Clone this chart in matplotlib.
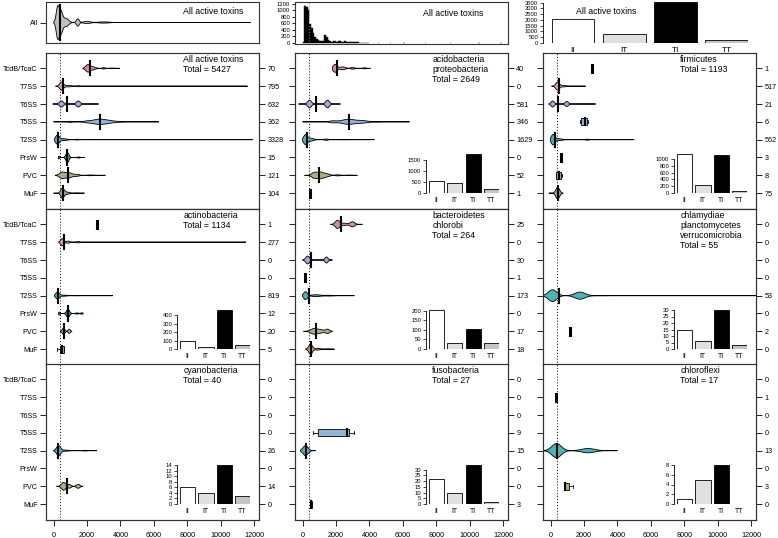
import numpy as np
import matplotlib.pyplot as plt
from matplotlib.ticker import MaxNLocator

plt.rcParams['font.family'] = ['Liberation Sans', 'DejaVu Sans']

W, H = 778, 538

categories = ['TcdB/TcaC', 'T7SS', 'T6SS', 'T5SS', 'T2SS', 'PrsW', 'PVC', 'MuF']
cat_colors = ['#d0909c', '#d89cb4', '#b3a3d3', '#93b2d8', '#4fb2b4', '#3e9f8e', '#a3b283', '#b59c80']
pair_names = ['II', 'IT', 'TI', 'TT']
pair_colors = ['white', '#e0e0e0', 'black', '#c4c4c4']
median_len = 380

panel_titles = ['All active toxins\nTotal = 5427', 'acidobacteria\nproteobacteria\nTotal = 2649',
                'firmicutes\nTotal = 1193', 'actinobacteria\nTotal = 1134',
                'bacteroidetes\nchlorobi\nTotal = 264',
                'chlamydiae\nplanctomycetes\nverrucomicrobia\nTotal = 55',
                'cyanobacteria\nTotal = 40', 'fusobacteria\nTotal = 27', 'chloroflexi\nTotal = 17']
panel_counts = [[70, 795, 632, 362, 3328, 15, 121, 104],
                [40, 0, 581, 346, 1629, 0, 52, 1],
                [1, 517, 21, 6, 562, 3, 8, 75],
                [1, 277, 0, 0, 819, 12, 20, 5],
                [25, 0, 30, 1, 173, 0, 17, 18],
                [0, 0, 0, 0, 53, 0, 2, 0],
                [0, 0, 0, 0, 26, 0, 14, 0],
                [0, 0, 0, 9, 15, 0, 0, 3],
                [0, 1, 0, 0, 13, 0, 3, 0]]
pair_counts = [None, [560, 470, 1780, 190], [1150, 235, 1120, 70],
               [100, 25, 460, 45], [205, 32, 103, 32], [15, 6, 30, 3],
               [6, 4, 14, 3], [22, 10, 34, 2], [1, 5, 8, 0]]
all_pairs = [2050, 770, 3550, 260]

# beans: ('bean', lo, hi, mean, [(centre, spread, half width)]), ('mark', x),
# ('box', whisker lo, q1, median, q3, whisker hi)
beans = [
    {'TcdB/TcaC': ('bean', 1750, 3950, 2180, [(2050, 130, 0.2), (2350, 150, 0.08), (3000, 80, 0.04), (3500, 150, 0.015)]),
     'T7SS': ('bean', 120, 11600, 590, [(480, 110, 0.22), (900, 200, 0.04), (1500, 100, 0.03), (2500, 300, 0.008)]),
     'T6SS': ('bean', -50, 2700, 820, [(470, 110, 0.17), (1480, 110, 0.17), (900, 200, 0.03), (2200, 200, 0.015)]),
     'T5SS': ('bean', 0, 6300, 2760, [(2700, 350, 0.14), (1000, 150, 0.03), (2000, 200, 0.04), (3300, 300, 0.06), (4000, 300, 0.02)]),
     'T2SS': ('bean', 60, 11900, 240, [(230, 110, 0.25), (600, 200, 0.05), (1400, 100, 0.02), (2500, 300, 0.006)]),
     'PrsW': ('bean', 300, 1850, 830, [(300, 50, 0.08), (830, 90, 0.28), (1500, 80, 0.03)]),
     'PVC': ('bean', 100, 3100, 880, [(500, 150, 0.16), (900, 200, 0.15), (1400, 150, 0.05), (2200, 200, 0.02)]),
     'MuF': ('bean', 0, 1850, 590, [(530, 100, 0.28), (800, 150, 0.06), (1400, 150, 0.02)])},
    {'TcdB/TcaC': ('bean', 1790, 4060, 2090, [(1950, 120, 0.22), (2400, 150, 0.08), (2990, 100, 0.05), (3700, 100, 0.03)]),
     'T6SS': ('bean', -240, 2270, 780, [(420, 110, 0.22), (1490, 110, 0.22)]),
     'T5SS': ('bean', 0, 6400, 2750, [(2750, 400, 0.14), (1800, 200, 0.05), (3600, 300, 0.06), (4500, 300, 0.02)]),
     'T2SS': ('bean', 0, 4300, 240, [(180, 110, 0.28), (500, 150, 0.08), (1430, 100, 0.04), (2500, 300, 0.01)]),
     'PVC': ('bean', 120, 3280, 960, [(700, 150, 0.15), (1100, 200, 0.18), (1500, 150, 0.06), (2100, 150, 0.03), (2800, 200, 0.015)]),
     'MuF': ('mark', 420)},
    {'TcdB/TcaC': ('mark', 2480),
     'T7SS': ('bean', 60, 2100, 480, [(420, 110, 0.22), (800, 150, 0.04)]),
     'T6SS': ('bean', -100, 2700, 420, [(130, 100, 0.17), (970, 100, 0.14), (1950, 80, 0.03), (2350, 80, 0.03)]),
     'T5SS': ('box', 1750, 1800, 2050, 2200, 2250),
     'T2SS': ('bean', 0, 5000, 250, [(150, 110, 0.28), (500, 200, 0.05), (2200, 100, 0.03), (3000, 300, 0.005)]),
     'PrsW': ('mark', 650),
     'PVC': ('box', 330, 350, 480, 650, 700),
     'MuF': ('bean', -100, 750, 430, [(430, 110, 0.33)])},
    {'TcdB/TcaC': ('mark', 2590),
     'T7SS': ('bean', 300, 11500, 650, [(530, 100, 0.2), (880, 80, 0.06), (1470, 100, 0.04), (2200, 200, 0.01)]),
     'T2SS': ('bean', 60, 3550, 240, [(240, 100, 0.2), (600, 200, 0.03), (1400, 200, 0.01)]),
     'PrsW': ('bean', 300, 1770, 870, [(350, 50, 0.08), (870, 90, 0.23), (1400, 100, 0.03), (1700, 60, 0.04)]),
     'PVC': ('bean', 400, 1100, 600, [(600, 80, 0.17), (940, 60, 0.12)]),
     'MuF': ('box', 230, 400, 500, 600, 600)},
    {'TcdB/TcaC': ('bean', 1670, 3580, 2270, [(2090, 130, 0.22), (2990, 130, 0.14), (2500, 200, 0.06)]),
     'T6SS': ('bean', 0, 1790, 480, [(300, 110, 0.22), (1430, 90, 0.17)]),
     'T5SS': ('mark', 120),
     'T2SS': ('bean', 0, 3100, 360, [(180, 110, 0.22), (800, 250, 0.05), (1600, 300, 0.02)]),
     'PVC': ('bean', 60, 1790, 780, [(700, 200, 0.16), (1490, 120, 0.12), (1100, 150, 0.08)]),
     'MuF': ('bean', 180, 1910, 480, [(480, 110, 0.28), (900, 150, 0.05), (1500, 200, 0.02)])},
    {'T2SS': ('bean', -450, 12280, 490, [(120, 250, 0.33), (1760, 300, 0.2), (3000, 500, 0.01)]),
     'PVC': ('mark', 1150)},
    {'T2SS': ('bean', 0, 2590, 240, [(300, 120, 0.28), (700, 200, 0.03), (1880, 150, 0.02)]),
     'PVC': ('bean', 180, 1760, 820, [(600, 120, 0.22), (950, 100, 0.1), (1470, 100, 0.11)])},
    {'T5SS': ('box', 600, 900, 2630, 2750, 3100),
     'T2SS': ('bean', -120, 780, 200, [(180, 150, 0.28)]),
     'MuF': ('box', 420, 420, 480, 540, 540)},
    {'T7SS': ('mark', 300),
     'T2SS': ('bean', -450, 4000, 360, [(360, 280, 0.4), (2250, 400, 0.12)]),
     'PVC': ('box', 780, 780, 850, 1100, 1330)},
]

all_bean = ('bean', 0, 11800, 380, [(250, 90, 0.75), (450, 100, 0.5), (750, 150, 0.2), (1450, 80, 0.18),
                                    (2000, 200, 0.05), (3000, 300, 0.03)])

hist_counts = [20, 1130, 1100, 1000, 570, 450, 300, 180, 100, 70, 55, 50, 60, 250, 180, 80, 40, 30, 50, 40,
               30, 50, 40, 30, 35, 40, 30, 20, 25, 20, 15, 10, 10, 8, 6, 5, 4, 3, 3, 2]
hist_tail = [(4500, 2), (5200, 1), (6000, 1), (7300, 1), (8800, 1), (10500, 1), (11800, 1)]

XLIM = (-450, 12280)

fig = plt.figure(figsize=(W / 100, H / 100), dpi=100)


def px_axes(x0, y0, x1, y1):
    return fig.add_axes([x0 / W, 1 - y1 / H, (x1 - x0) / W, (y1 - y0) / H])


def frame(ax):
    for s in ax.spines.values():
        s.set_linewidth(0.8)
        s.set_color('#333333')
    ax.tick_params(length=4, width=0.6, labelsize=5.2, pad=2)


def draw_bean(ax, y, spec, color, tall=0.4):
    kind = spec[0]
    if kind == 'bean':
        lo, hi, mean, modes = spec[1:]
        xs = np.linspace(lo, hi, 600)
        w = np.zeros_like(xs)
        for c, s, h in modes:
            w += h * np.exp(-0.5 * ((xs - c) / s) ** 2)
        w[0] = w[-1] = 0
        ax.fill(np.r_[xs, xs[::-1]], np.r_[y - w, (y + w)[::-1]], facecolor=color,
                edgecolor='black', lw=0.6, zorder=3)
        ax.plot([mean, mean], [y - tall, y + tall], color='black', lw=1.5, zorder=4)
    elif kind == 'mark':
        ax.plot([spec[1], spec[1]], [y - 0.2, y + 0.2], color='black', lw=2.2, zorder=4)
    else:
        wlo, q1, med, q3, whi = spec[1:]
        ax.plot([wlo, q1], [y, y], color='black', lw=0.6, zorder=3)
        ax.plot([q3, whi], [y, y], color='black', lw=0.6, zorder=3)
        ax.plot([wlo, wlo], [y - 0.08, y + 0.08], color='black', lw=0.6, zorder=3)
        ax.plot([whi, whi], [y - 0.08, y + 0.08], color='black', lw=0.6, zorder=3)
        ax.add_patch(plt.Rectangle((q1, y - 0.2), q3 - q1, 0.4, facecolor=color,
                                   edgecolor='black', lw=0.6, zorder=3))
        ax.plot([med, med], [y - 0.2, y + 0.2], color='black', lw=1.5, zorder=4)


def pair_bars(ax, values, names_size=5):
    ax.bar(np.arange(4) * 1.2 + 0.7, values, width=1.0, color=pair_colors,
           edgecolor='black', lw=0.6)
    top = max(values)
    ax.set_xlim(0, 4.8)
    ax.set_ylim(0, top)
    ticks = [t for t in MaxNLocator(nbins=7, steps=[1, 2, 5, 10]).tick_values(0, top) if 0 <= t <= top]
    ax.set_yticks(ticks)
    ax.set_xticks(np.arange(4) * 1.2 + 0.7)
    ax.set_xticklabels(pair_names)
    for s in ['top', 'right', 'bottom']:
        ax.spines[s].set_visible(False)
    ax.spines['left'].set_bounds(0, ticks[-1])
    ax.spines['left'].set_linewidth(0.6)
    ax.patch.set_alpha(0)
    ax.tick_params(axis='y', length=2.5, width=0.5, labelsize=4.2, pad=1)
    ax.tick_params(axis='x', length=0, labelsize=names_size, pad=3)


col_x = [46, 295, 543]
row_y = [53, 209, 364]
pw, ph = 213, 155.5

# top row: all toxins as one bean, histogram and pair counts
ax = px_axes(46, 2, 259, 43)
frame(ax)
ax.set_xlim(*XLIM)
ax.set_ylim(-1, 1)
draw_bean(ax, 0, all_bean, '#c0c0c0', tall=0.85)
ax.axvline(median_len, color='black', lw=0.7, ls=(0, (1, 2)))
ax.set_yticks([0])
ax.set_yticklabels(['All'])
ax.set_xticks([])
ax.text(0.645, 0.78, 'All active toxins', transform=ax.transAxes, fontsize=6.3, va='center')

ax = px_axes(295, 2, 508, 44)
frame(ax)
edges = np.arange(len(hist_counts)) * 100
ax.bar(edges, hist_counts, width=100, align='edge', color='black', edgecolor='black', lw=0.3)
ax.bar([t[0] for t in hist_tail], [t[1] for t in hist_tail], width=100, align='edge',
       color='black', edgecolor='black', lw=0.3)
ax.set_xlim(*XLIM)
ax.set_ylim(-40, 1260)
ax.axvline(median_len, color='#888888', lw=0.7, ls=(0, (1, 2)))
ax.set_yticks(range(0, 1201, 200))
ax.set_xticks([])
ax.tick_params(axis='y', length=2.5, labelsize=4.2, pad=1)
ax.text(0.6, 0.72, 'All active toxins', transform=ax.transAxes, fontsize=6.3, va='center')

ax = px_axes(543, 2, 748, 43)
pair_bars(ax, all_pairs, names_size=6)
ax.set_ylim(0, 3550)
ax.set_yticks(range(0, 3501, 500))
ax.spines['left'].set_bounds(0, 3500)
ax.text(0.16, 0.76, 'All active toxins', transform=ax.transAxes, fontsize=6.3, va='center')

# main grid of taxa
for i in range(9):
    r, c = divmod(i, 3)
    x0, y0 = col_x[c], row_y[r]
    ax = px_axes(x0, y0, x0 + pw, y0 + ph)
    frame(ax)
    ax.set_xlim(*XLIM)
    ax.set_ylim(8.86, 0.14)
    ax.axvline(median_len, color='black', lw=0.7, ls=(0, (1, 2)), zorder=1)
    for k, cat in enumerate(categories):
        if cat in beans[i]:
            draw_bean(ax, k + 1, beans[i][cat], cat_colors[k])
    ax.set_yticks(range(1, 9))
    if c == 0:
        ax.set_yticklabels(categories)
    else:
        ax.tick_params(axis='y', left=False, labelleft=False)
    if r == 2:
        ax.set_xticks(range(0, 12001, 2000))
        ax.tick_params(axis='x', pad=5)
    else:
        ax.set_xticks([])
    axr = ax.twinx()
    frame(axr)
    axr.set_ylim(8.86, 0.14)
    axr.set_yticks(range(1, 9))
    axr.set_yticklabels([str(v) for v in panel_counts[i]])
    ax.text(0.645, 0.985, panel_titles[i], transform=ax.transAxes, fontsize=6.3,
            va='top', linespacing=1.15)
    if pair_counts[i] is not None:
        axi = px_axes(x0 + 131, y0 + 101, x0 + 131 + 73, y0 + 140)
        pair_bars(axi, pair_counts[i])

fig.savefig('out.png', dpi=100)
